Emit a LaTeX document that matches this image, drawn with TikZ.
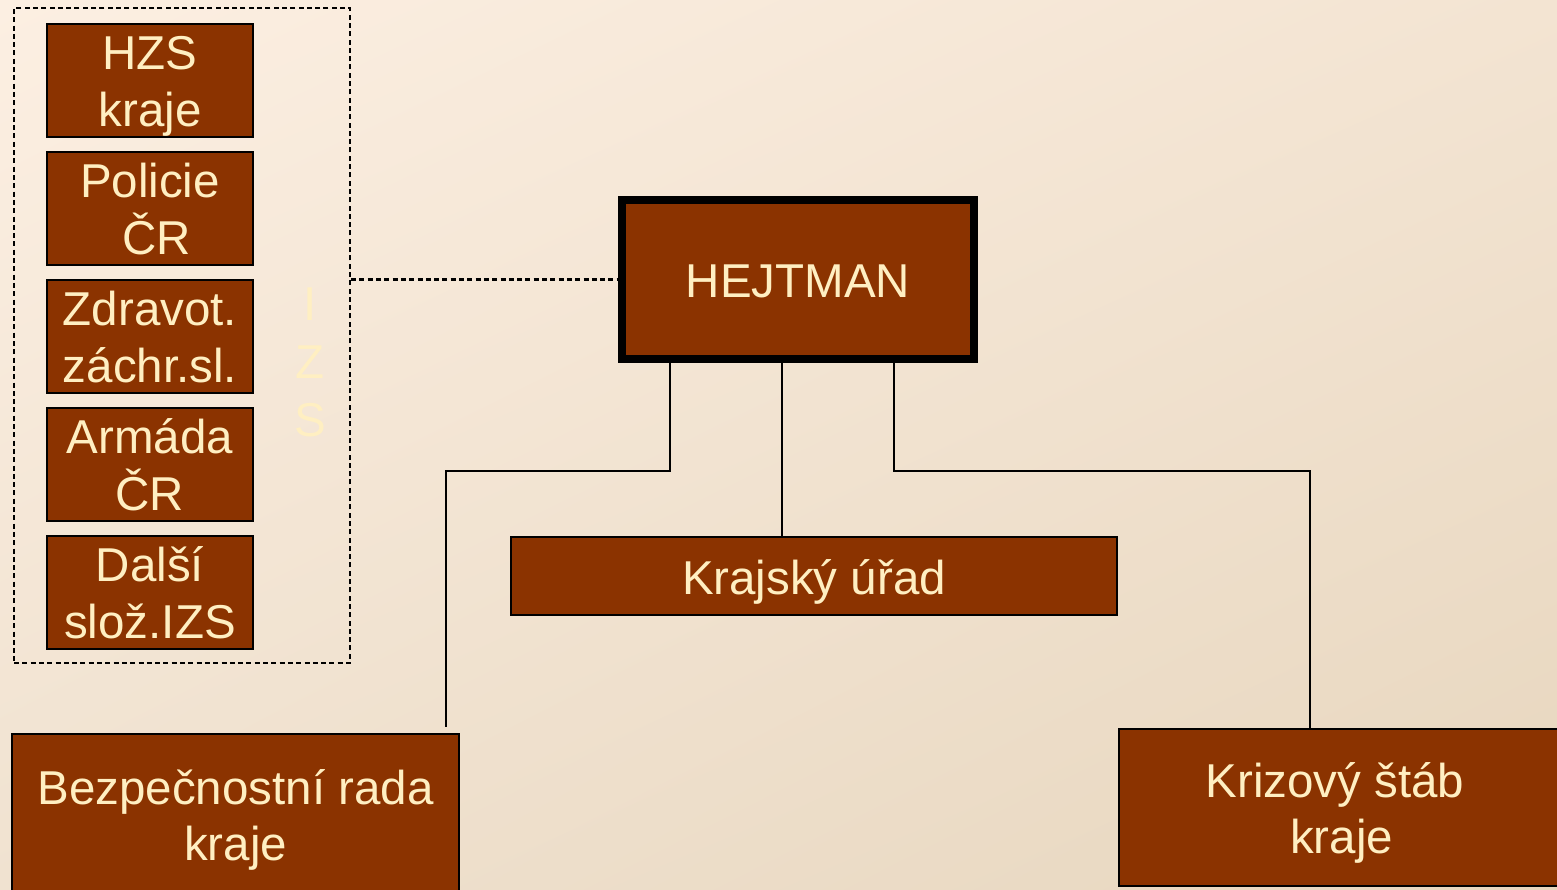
\documentclass[tikz,border=0pt]{standalone}
\usepackage{fontspec}
\setmainfont{Liberation Sans}
\usetikzlibrary{shadings}
\definecolor{boxbrown}{HTML}{8B3300}
\definecolor{cream}{HTML}{FFEFC2}
\definecolor{bgul}{RGB}{252,239,226}
\definecolor{bgur}{RGB}{243,228,210}
\definecolor{bgll}{RGB}{240,226,208}
\definecolor{bglr}{RGB}{231,214,190}
\tikzset{
	unit/.style={draw=black, line width=2pt, fill=boxbrown, text=cream, align=center, inner sep=0pt,
		minimum width=206pt, minimum height=110pt, font=\fontsize{47.5}{57}\selectfont,
		text height=103pt, text depth=10pt},
	single/.style={unit, text height=46pt},
	boss/.style={single, line width=8pt, minimum width=352pt, minimum height=159pt},
	wide/.style={unit, font=\fontsize{47.5}{56}\selectfont, text height=102pt},
	frame/.style={draw=black, line width=2.2pt, dash pattern=on 5pt off 3.3pt},
	link/.style={draw=black, line width=2.2pt},
}
\begin{document}
\begin{tikzpicture}[x=1pt, y=-1pt]
			\clip (0,0) rectangle (1557,889);
			\shade[upper left=bgul, upper right=bgur, lower left=bgll, lower right=bglr]
				(0,0) rectangle (1557,889);
			% IZS
			\node[frame, minimum width=336pt, minimum height=655pt] (izs) at (182,335.5) {};
			\foreach \a/\b [count=\i from 0] in {HZS/kraje, Policie/\ ČR, Zdravot./záchr.sl., Armáda/ČR, Další/slož.IZS}{
				\node[unit] (unit\i) at (150,{80+128*\i}) {\a\\\b};
			}
			\node[text=cream, align=center, font=\fontsize{47.5}{58}\selectfont] (izslabel) at (310,362) {I\\Z\\S};
			% hejtman and the rest
			\node[boss] (hejtman) at (798,279.5) {HEJTMAN};
			\node[single, minimum width=606pt, minimum height=78pt] (urad) at (814,576) {Krajský úřad};
			\node[wide, minimum width=447pt, minimum height=160pt] (rada) at (235.5,814) {Bezpečnostní rada\\kraje};
			\node[wide, minimum width=445pt, minimum height=157pt] (stab) at (1341.5,807.5) {Krizový štáb\kern13.2pt\\kraje};
			\draw[frame] (izs.east |- hejtman.west) -- (hejtman.west);
			\draw[link] ([xshift=-128pt]hejtman.south) -- ++(0,108) -| ([xshift=-14pt,yshift=6pt]rada.north east);
			\draw[link] ([xshift=-16pt]hejtman.south) -- ([xshift=-16pt]hejtman.south |- urad.north);
			\draw[link] ([xshift=96pt]hejtman.south) -- ++(0,108) -| ([xshift=-31.5pt]stab.north);
		\end{tikzpicture}
\end{document}
